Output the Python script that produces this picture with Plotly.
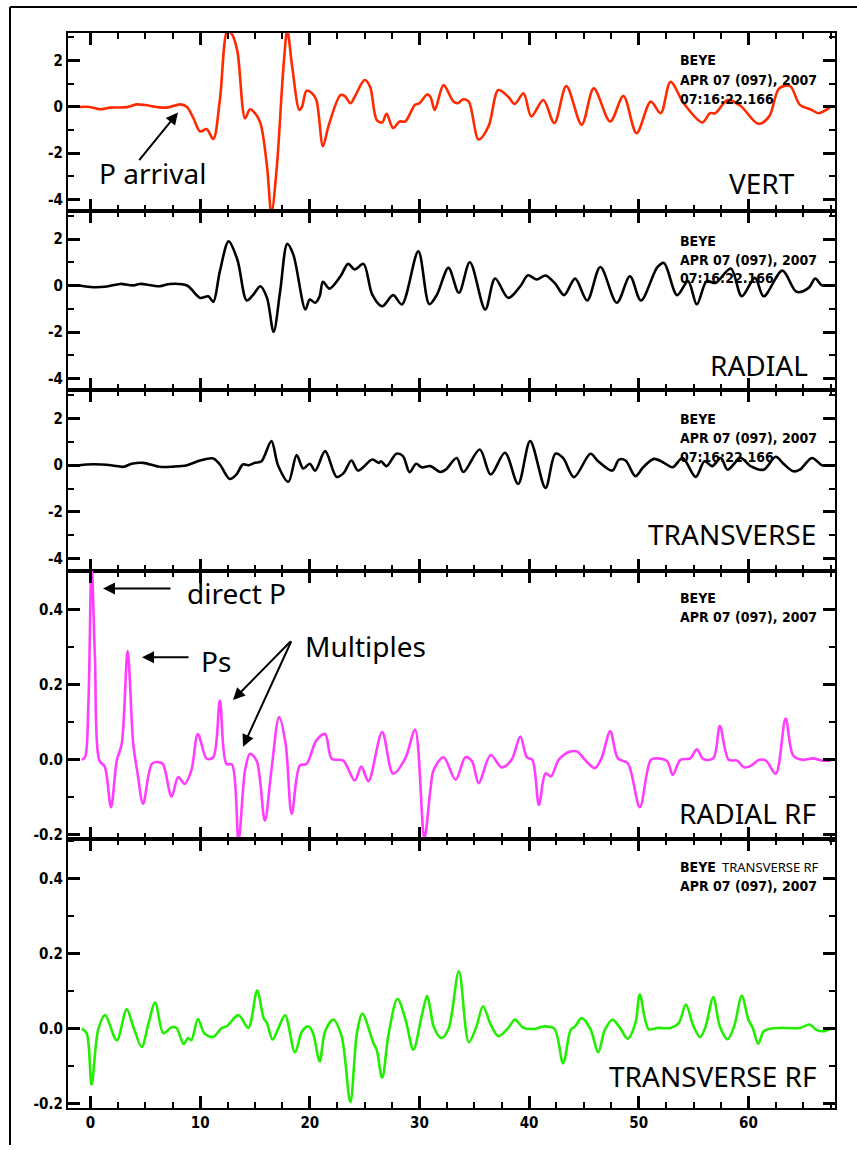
import plotly.graph_objects as go

# ---------------- data ----------------
vert_t = [-1.0, -0.1, 0.87, 1.8, 3.3, 4.2, 5.0, 6.0, 6.95, 8.2, 8.8, 9.4, 10.0, 10.6, 11.2, 11.8,
          12.5, 12.95, 13.4, 14.1, 14.55, 15.0, 15.5, 16.1, 16.5, 17.0, 17.6, 17.95, 18.4, 19.05,
          19.3, 19.7, 20.2, 20.6, 21.2, 21.7, 22.8, 23.2, 23.7, 24.1, 25.0, 25.5, 26.1, 26.6, 27.0,
          27.6, 28.2, 28.7, 29.6, 30.0, 30.7, 31.0, 31.4, 32.2, 33.1, 33.5, 34.0, 34.5, 35.4, 36.3,
          37.2, 38.1, 38.7, 39.5, 40.2, 41.3, 42.3, 43.4, 44.8, 45.9, 47.4, 48.6, 49.8, 51.1, 52.0,
          52.9, 54.1, 55.8, 56.5, 57.0, 58.1, 59.3, 60.9, 61.9, 62.8, 63.8, 64.7, 65.7, 66.4, 67.5]
vert_a = [0.0, 0.0, -0.1, -0.03, -0.01, 0.11, 0.08, 0.0, -0.03, 0.11, 0.0, -0.5, -1.06, -0.96, -1.39,
          0.3, 3.3, 3.1, 2.4, -0.49, -0.1, -0.27, -0.7, -2.56, -4.6, -2.56, 1.73, 3.3, 1.73, -0.13,
          0.01, 0.7, 0.59, 0.3, -1.7, -0.84, 0.51, 0.47, 0.16, 0.44, 1.16, 0.87, -0.56, -0.67, -0.3,
          -0.91, -0.63, -0.63, 0.09, 0.16, 0.54, 0.44, -0.13, 0.94, 0.23, 0.16, 0.33, 0.23, -1.41,
          -0.84, 0.73, 0.44, 0.13, 0.59, -0.41, 0.3, -0.7, 0.9, -0.77, 0.8, -0.63, 0.47, -1.13, 0.23,
          -0.27, 1.09, 0.16, -0.67, -0.27, -0.27, 0.3, 0.04, -0.73, -0.41, 0.8, 0.9, 0.09, -0.11,
          -0.27, 0.0]

rad_t = [-1.0, 0.26, 1.5, 2.7, 3.9, 4.5, 6.3, 7.25, 8.8, 10.0, 10.75, 11.2, 11.8, 12.6, 13.4, 14.25,
         14.85, 15.5, 16.1, 16.7, 17.3, 17.95, 18.5, 19.6, 20.0, 20.5, 20.9, 21.2, 21.8, 22.8, 23.5,
         24.1, 24.9, 25.7, 26.6, 27.6, 28.4, 29.9, 30.9, 31.6, 32.65, 33.6, 34.6, 36.0, 36.9, 38.1,
         39.2, 39.9, 40.7, 41.5, 42.4, 43.2, 44.2, 45.3, 46.5, 48.0, 49.2, 50.2, 51.7, 52.3, 53.5,
         54.5, 55.3, 56.2, 57.0, 58.4, 59.4, 60.6, 61.4, 63.1, 64.4, 65.5, 66.1, 66.7, 67.5]
rad_a = [0.0, -0.07, -0.04, 0.07, 0.01, 0.07, -0.03, 0.07, 0.0, -0.53, -0.46, -0.7, 0.61, 1.9, 1.11,
         -0.64, -0.39, -0.03, -0.53, -1.99, -0.24, 1.79, 1.33, -1.03, -0.6, -0.74, -0.46, 0.16, -0.13,
         0.4, 0.93, 0.69, 0.93, -0.39, -0.89, -0.41, -0.81, 1.47, -0.8, -0.39, 0.76, -0.31, 1.0,
         -1.03, 0.3, -0.53, -0.03, 0.44, 0.26, 0.43, 0.07, -0.41, 0.3, -0.64, 0.8, -0.74, 0.4, -0.64,
         0.79, 0.97, -0.41, 0.19, -0.81, 0.19, 0.11, 0.73, -0.46, 0.33, -0.46, 0.64, -0.27, -0.1,
         0.3, 0.01, 0.01]

tra_t = [-1.0, -0.35, 1.0, 2.0, 3.0, 3.76, 4.8, 6.3, 7.55, 8.8, 10.0, 11.2, 11.8, 12.7, 13.3, 13.9,
         14.4, 15.0, 15.6, 16.5, 17.1, 18.05, 18.8, 19.4, 20.0, 20.5, 21.4, 22.45, 23.1, 23.8, 24.4,
         25.7, 26.3, 26.5, 27.0, 27.9, 28.5, 29.1, 29.7, 30.2, 31.0, 31.9, 32.4, 33.4, 34.0, 35.5,
         36.5, 37.8, 39.0, 40.1, 41.5, 42.4, 43.1, 44.1, 45.6, 46.3, 47.6, 48.2, 48.8, 49.7, 50.4,
         51.4, 52.3, 53.1, 54.0, 55.2, 56.0, 56.7, 57.5, 58.1, 59.3, 60.2, 61.4, 62.5, 63.2, 64.1,
         64.7, 65.8, 66.7, 67.5]
tra_a = [0.0, 0.03, 0.03, -0.01, -0.07, 0.06, 0.1, -0.07, -0.06, 0.0, 0.2, 0.29, 0.03, -0.59, -0.4,
         0.03, 0.0, 0.1, 0.17, 1.03, 0.0, -0.71, 0.43, -0.14, 0.06, -0.23, 0.6, -0.5, -0.33, 0.2,
         -0.23, 0.24, 0.1, 0.17, -0.04, 0.49, 0.39, -0.3, 0.06, -0.09, -0.04, -0.29, -0.19, 0.31,
         -0.29, 0.67, -0.4, 0.53, -0.8, 1.03, -0.97, 0.49, 0.31, -0.51, 0.49, 0.17, -0.23, 0.24, 0.2,
         -0.47, -0.09, 0.27, 0.1, -0.09, 0.31, -0.5, 0.17, -0.04, 0.31, -0.19, 0.31, -0.04, -0.19,
         0.36, 0.06, -0.26, -0.19, 0.31, 0.0, 0.0]

rrf_t = [-0.8, -0.5, -0.2, 0.1, 0.41, 0.81, 1.3, 1.87, 2.4, 2.85, 3.39, 3.9, 4.3, 4.8, 5.6, 6.2, 6.6,
         7.4, 8.0, 8.6, 9.2, 9.8, 10.6, 11.2, 11.8, 12.4, 12.9, 13.5, 14.1, 14.55, 15.15, 15.9, 16.5,
         17.2, 17.8, 18.35, 19.1, 19.7, 20.6, 21.4, 22.0, 23.05, 24.1, 24.7, 25.35, 26.6, 27.6, 28.7,
         29.6, 30.45, 31.0, 31.3, 32.2, 33.3, 34.2, 34.8, 35.4, 36.5, 37.5, 38.4, 39.2, 39.8, 40.3,
         40.9, 41.5, 42.0, 42.7, 43.75, 44.4, 45.1, 46.0, 46.6, 47.4, 48.1, 49.0, 50.1, 51.1, 51.7,
         52.6, 53.1, 53.8, 54.7, 55.3, 55.9, 56.8, 57.4, 58.2, 58.97, 59.6, 60.2, 61.0, 61.6, 62.5,
         63.4, 64.1, 65.0, 65.9, 66.7, 67.5]
rrf_a = [0.0, 0.007, 0.14, 0.52, 0.27, -0.002, -0.018, -0.126, -0.002, 0.043, 0.29, 0.043, -0.037,
         -0.117, -0.011, -0.006, -0.011, -0.098, -0.046, -0.064, -0.028, 0.069, 0.003, 0.007, 0.158,
         -0.011, -0.012, -0.215, -0.028, 0.016, -0.002, -0.162, -0.028, 0.114, 0.043, -0.144, -0.015,
         -0.011, 0.052, 0.069, 0.003, -0.002, -0.055, -0.018, -0.057, 0.074, -0.037, 0.003, 0.08,
         -0.21, -0.08, -0.027, 0.007, -0.053, 0.007, -0.004, -0.062, 0.013, -0.02, 0.0, 0.062, 0.007,
         0.0, -0.12, -0.036, -0.044, 0.0, 0.022, 0.022, 0.0, -0.022, 0.004, 0.076, 0.004, -0.009,
         -0.126, 0.0, 0.004, -0.004, -0.04, 0.0, 0.004, 0.028, 0.002, 0.004, 0.09, 0.0, -0.002,
         -0.02, -0.016, 0.0, -0.002, -0.037, 0.11, 0.011, 0.0, 0.004, -0.002, -0.002]

trf_t = [-0.8, -0.35, 0.1, 0.7, 1.33, 2.4, 3.3, 3.9, 4.67, 5.3, 5.9, 6.65, 7.4, 7.85, 8.5, 8.9, 9.2,
         9.8, 10.4, 11.2, 11.97, 12.4, 13.5, 14.4, 15.2, 15.8, 16.1, 16.6, 17.1, 17.75, 18.65, 19.3,
         19.9, 20.3, 20.9, 21.4, 22.15, 22.9, 23.7, 24.3, 24.8, 25.8, 26.1, 26.6, 27.2, 28.0, 28.7,
         29.45, 30.2, 30.7, 31.0, 31.3, 32.0, 32.65, 33.6, 34.5, 35.2, 35.8, 36.5, 37.2, 38.1, 38.7,
         39.5, 40.6, 41.3, 42.3, 43.1, 43.8, 44.2, 44.8, 45.6, 46.3, 46.9, 47.6, 48.3, 48.98, 49.7,
         50.1, 50.9, 51.7, 52.9, 53.65, 54.3, 55.0, 55.6, 56.1, 56.8, 57.4, 58.1, 58.7, 59.4, 60.0,
         60.4, 60.9, 61.4, 62.0, 62.9, 64.7, 65.6, 66.2, 66.8, 67.5]
trf_a = [0.0, -0.012, -0.149, -0.003, 0.036, -0.031, 0.052, 0.006, -0.049, 0.015, 0.07, -0.012,
         0.004, 0.002, -0.041, -0.025, -0.031, 0.026, -0.013, -0.022, 0.002, 0.006, 0.036, 0.002,
         0.102, 0.028, 0.015, -0.029, -0.001, 0.036, -0.063, -0.007, 0.006, -0.012, -0.087, -0.007,
         0.024, -0.02, -0.196, -0.012, 0.04, -0.038, -0.056, -0.131, -0.012, 0.08, 0.028, -0.056,
         0.033, 0.088, 0.051, 0.006, -0.025, -0.001, 0.153, -0.036, 0.006, 0.06, 0.011, -0.02, 0.002,
         0.024, 0.002, 0.0, 0.006, 0.0, -0.092, -0.003, 0.006, 0.028, -0.001, -0.063, -0.004, 0.024,
         0.002, -0.027, 0.015, 0.091, -0.001, 0.002, 0.002, 0.015, 0.064, 0.006, -0.023, 0.006, 0.084,
         0.006, -0.028, 0.006, 0.088, 0.024, 0.002, -0.04, -0.007, 0.0, 0.002, 0.002, 0.011, -0.003,
         -0.007, -0.001]

panel_names = ["VERT", "RADIAL", "TRANSVERSE", "RADIAL RF", "TRANSVERSE RF"]
station = "BEYE"
date_text = "APR 07 (097), 2007"
time_text = "07:16:22.166"
x_ticks = [0, 10, 20, 30, 40, 50, 60]
seis_ticks = [-4, -2, 0, 2]
rf_ticks = [-0.2, 0.0, 0.2, 0.4]

# ---------------- layout helpers ----------------
W, H = 857, 1150
def fx(p):
    return p / W
def fy(p):
    return 1 - p / H

panel_px = [(33, 212), (212, 392), (392, 573), (573, 843), (843, 1113)]
x_dom = [fx(68), fx(835)]
colors = ["#ff2a00", "black", "black", "#ff3cff", "#22ee00"]
series = [(vert_t, vert_a), (rad_t, rad_a), (tra_t, tra_a), (rrf_t, rrf_a), (trf_t, trf_a)]
seis_range = [-4.5, 3.2]
rf_range = [-0.212, 0.505]

COND = "DejaVu Sans Condensed, Roboto Condensed, Liberation Sans Narrow, sans-serif"
tick_font = dict(family=COND, size=15, color="black", weight="bold")
label_font = dict(family="Noto Sans", size=28, color="black")
head_font = dict(family=COND, size=14, color="black", weight="bold")

fig = go.Figure()
layout = dict(width=W, height=H, margin=dict(l=0, r=0, t=0, b=0),
              paper_bgcolor="white", plot_bgcolor="white", showlegend=False)

for i, ((t, a), c) in enumerate(zip(series, colors)):
    n = i + 1
    sfx = "" if n == 1 else str(n)
    fig.add_trace(go.Scatter(x=t, y=a, mode="lines", xaxis="x" + sfx, yaxis="y" + sfx,
                             line=dict(color=c, width=2.6, shape="spline", smoothing=0.9),
                             hoverinfo="skip"))
    top, bot = panel_px[i]
    is_rf = i >= 3
    layout["xaxis" + sfx] = dict(
        domain=x_dom, anchor="y" + sfx, range=[-2.05, 67.9],
        showline=True, linewidth=2, linecolor="black", mirror="ticks",
        ticks="inside", ticklen=12, tickwidth=2.5, tickcolor="black",
        tickvals=x_ticks, showticklabels=(n == 5), tickfont=tick_font,
        minor=dict(ticks="inside", ticklen=6, tickwidth=2, tickcolor="black", dtick=2.5, tick0=0),
        showgrid=False, zeroline=False, fixedrange=True)
    layout["yaxis" + sfx] = dict(
        domain=[fy(bot), fy(top)], anchor="x" + sfx,
        range=rf_range if is_rf else seis_range,
        showline=True, linewidth=2, linecolor="black", mirror="ticks",
        ticks="inside", ticklen=12, tickwidth=2.5, tickcolor="black",
        tickvals=rf_ticks if is_rf else seis_ticks,
        ticktext=[f"{v:.1f}" for v in rf_ticks] if is_rf else [str(v) for v in seis_ticks],
        tickfont=tick_font,
        minor=dict(ticks="inside", ticklen=6, tickwidth=2, tickcolor="black",
                   dtick=0.1 if is_rf else 1, tick0=0),
        showgrid=False, zeroline=False, fixedrange=True)

fig.update_layout(**layout)

ann = []
# header blocks
head_lines = [
    [(60, station), (80, date_text), (99, time_text)],
    [(242, station), (261, date_text), (279, time_text)],
    [(421, station), (440, date_text), (459, time_text)],
    [(601, station), (620, date_text)],
    [(871, station), (890, date_text)],
]
for block in head_lines:
    for yc, txt in block:
        ann.append(dict(x=fx(678), y=fy(yc), xref="paper", yref="paper", text=txt,
                        showarrow=False, xanchor="left", yanchor="middle", font=head_font))
ann.append(dict(x=fx(720), y=fy(871), xref="paper", yref="paper", text="TRANSVERSE RF",
                showarrow=False, xanchor="left", yanchor="middle",
                font=dict(family="Noto Sans", size=13, color="black")))

# panel names
name_pos = [(797, 184), (810, 367), (818, 536), (818, 817), (818, 1081)]
for name, (xr, yc) in zip(panel_names, name_pos):
    ann.append(dict(x=fx(xr), y=fy(yc), xref="paper", yref="paper", text=name,
                    showarrow=False, xanchor="right", yanchor="middle", font=label_font))

# phase labels
for txt, xl, yc in [("P arrival", 97, 174), ("direct P", 185, 596), ("Ps", 199, 664),
                    ("Multiples", 303, 649)]:
    ann.append(dict(x=fx(xl), y=fy(yc), xref="paper", yref="paper", text=txt,
                    showarrow=False, xanchor="left", yanchor="middle", font=label_font))

# arrows (head position, tail offset in px)
for hx, hy, ax, ay in [(178, 113, -40, 49), (103, 591, 69, 0), (142, 660, 48, 0),
                       (233, 703, 59, -60), (243, 750, 49, -107)]:
    ann.append(dict(x=fx(hx), y=fy(hy), xref="paper", yref="paper", text="",
                    showarrow=True, ax=ax, ay=ay, arrowhead=2, arrowsize=1.2,
                    arrowwidth=2, arrowcolor="black"))

fig.update_layout(annotations=ann)

# outer frame
fig.update_layout(shapes=[
    dict(type="line", xref="paper", yref="paper", x0=fx(10), x1=fx(10), y0=fy(7), y1=0,
         line=dict(color="black", width=2)),
    dict(type="line", xref="paper", yref="paper", x0=fx(10), x1=1, y0=fy(7), y1=fy(7),
         line=dict(color="black", width=2)),
])

fig.write_html("out.html")
